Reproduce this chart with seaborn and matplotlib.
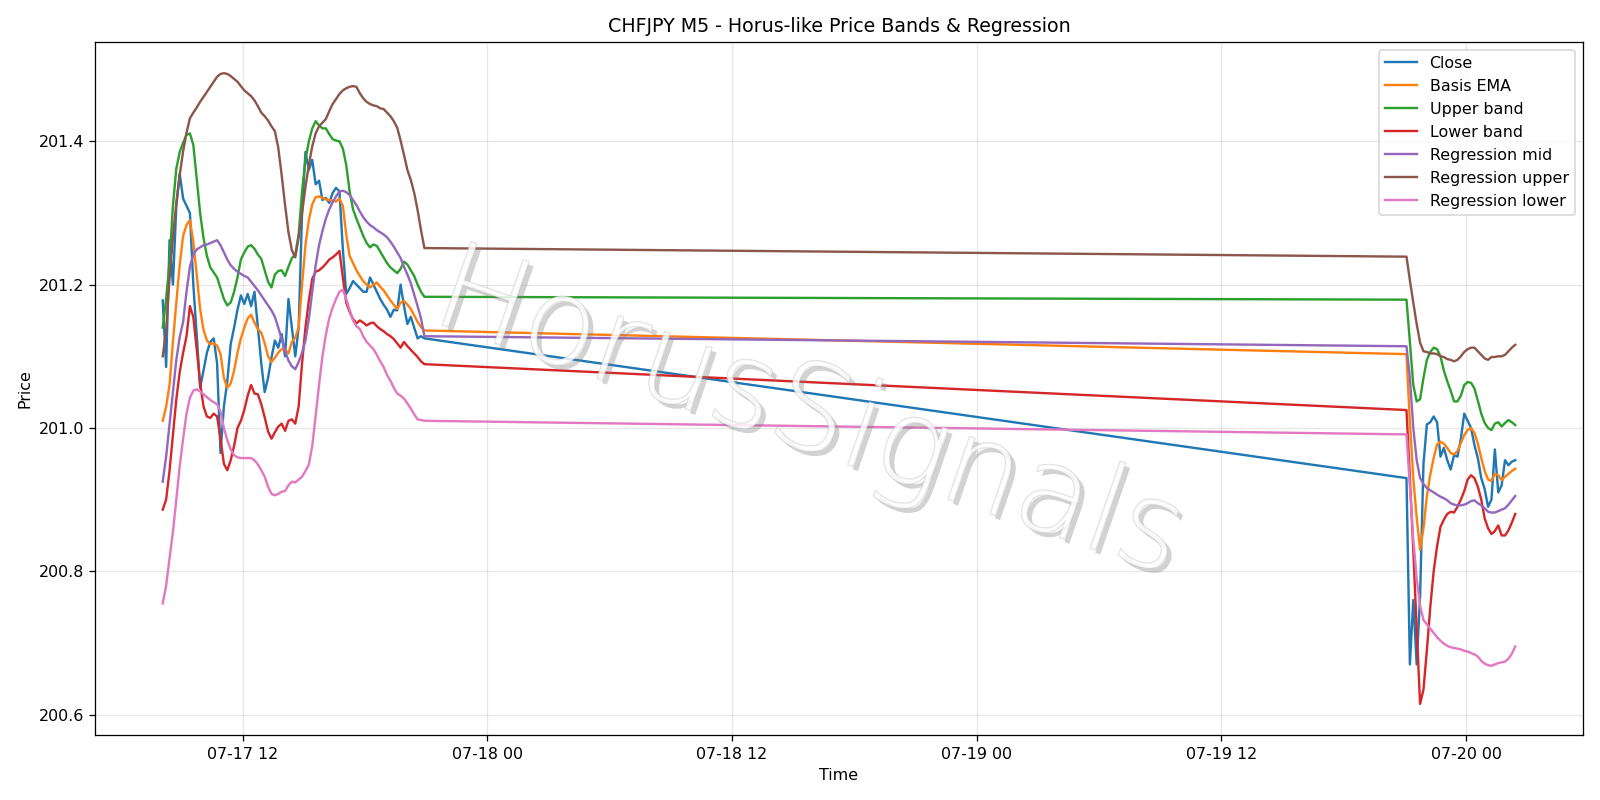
import pandas as pd
import matplotlib
matplotlib.use("Agg")
import matplotlib.pyplot as plt
import matplotlib.patheffects as pe
import seaborn as sns

# time index: two trading sessions (weekend gap in between), 10-minute samples
t_fri = pd.date_range("2020-07-17 08:05", "2020-07-17 20:55", freq="10min")
t_sun = pd.date_range("2020-07-19 21:05", "2020-07-20 02:25", freq="10min")

close_fri = [201.178, 201.085, 201.262, 201.20, 201.31, 201.355, 201.32, 201.31, 201.30, 201.20,
             201.13, 201.056, 201.08, 201.105, 201.12, 201.125, 201.09, 200.965, 201.03, 201.065,
             201.117, 201.14, 201.165, 201.185, 201.173, 201.187, 201.17, 201.19, 201.14, 201.09,
             201.05, 201.07, 201.098, 201.122, 201.112, 201.131, 201.10, 201.18, 201.14, 201.10,
             201.14, 201.30, 201.385, 201.36, 201.374, 201.34, 201.345, 201.318, 201.321, 201.314,
             201.328, 201.335, 201.33, 201.25, 201.187, 201.195, 201.205, 201.20, 201.195, 201.19,
             201.19, 201.21, 201.20, 201.19, 201.18, 201.172, 201.165, 201.155, 201.165, 201.164,
             201.20, 201.17, 201.145, 201.155, 201.14, 201.125, 201.128, 201.125]
close_sun = [200.93, 200.67, 200.76, 200.67, 200.765, 200.95, 201.005, 201.008, 201.016, 201.008,
             200.96, 200.972, 200.955, 200.942, 200.962, 200.96, 200.985, 201.02, 201.01, 201.0,
             200.976, 200.958, 200.93, 200.915, 200.89, 200.90, 200.97, 200.91, 200.92, 200.955,
             200.948, 200.953, 200.955]

ema_fri = [201.01, 201.03, 201.06, 201.12, 201.175, 201.228, 201.268, 201.283, 201.29, 201.26,
           201.214, 201.166, 201.137, 201.122, 201.117, 201.118, 201.115, 201.103, 201.07, 201.056,
           201.062, 201.08, 201.105, 201.125, 201.14, 201.153, 201.158, 201.147, 201.138, 201.133,
           201.118, 201.10, 201.092, 201.098, 201.105, 201.11, 201.11, 201.104, 201.12, 201.126,
           201.14, 201.20, 201.255, 201.29, 201.312, 201.322, 201.323, 201.321, 201.319, 201.318,
           201.317, 201.316, 201.32, 201.31, 201.27, 201.24, 201.23, 201.22, 201.212, 201.205,
           201.20, 201.196, 201.20, 201.203, 201.197, 201.192, 201.185, 201.178, 201.172, 201.166,
           201.175, 201.177, 201.172, 201.166, 201.157, 201.148, 201.141, 201.136]
ema_sun = [201.103, 201.008, 200.93, 200.875, 200.83, 200.86, 200.905, 200.935, 200.958, 200.977,
           200.981, 200.978, 200.972, 200.965, 200.963, 200.968, 200.979, 200.99, 200.997, 201.0,
           200.993, 200.978, 200.958, 200.94, 200.928, 200.926, 200.936, 200.934, 200.927, 200.932,
           200.936, 200.94, 200.943]

upper_fri = [201.14, 201.18, 201.23, 201.31, 201.362, 201.385, 201.398, 201.409, 201.411, 201.395,
             201.348, 201.30, 201.265, 201.24, 201.224, 201.217, 201.21, 201.195, 201.18, 201.171,
             201.175, 201.19, 201.21, 201.235, 201.245, 201.253, 201.255, 201.25, 201.242, 201.236,
             201.22, 201.204, 201.196, 201.214, 201.219, 201.22, 201.212, 201.225, 201.237, 201.242,
             201.27, 201.33, 201.374, 201.40, 201.418, 201.428, 201.422, 201.418, 201.418, 201.41,
             201.403, 201.401, 201.40, 201.39, 201.367, 201.33, 201.305, 201.292, 201.28, 201.268,
             201.258, 201.252, 201.256, 201.254, 201.246, 201.238, 201.23, 201.224, 201.22, 201.216,
             201.222, 201.232, 201.228, 201.22, 201.212, 201.20, 201.19, 201.183]
upper_sun = [201.179, 201.12, 201.06, 201.037, 201.04, 201.07, 201.095, 201.106, 201.112, 201.11,
             201.10, 201.08, 201.065, 201.052, 201.037, 201.037, 201.045, 201.06, 201.064, 201.063,
             201.055, 201.038, 201.02, 201.007, 201.0, 200.997, 201.006, 201.008, 201.002, 201.007,
             201.011, 201.008, 201.004]

lower_fri = [200.886, 200.90, 200.94, 200.99, 201.04, 201.078, 201.105, 201.128, 201.17, 201.155,
             201.11, 201.063, 201.03, 201.016, 201.014, 201.02, 201.016, 200.985, 200.95, 200.941,
             200.955, 200.975, 201.0, 201.01, 201.025, 201.045, 201.06, 201.048, 201.047, 201.033,
             201.015, 200.995, 200.985, 200.994, 201.002, 201.006, 200.996, 201.01, 201.012, 201.006,
             201.03, 201.09, 201.14, 201.178, 201.208, 201.218, 201.22, 201.224, 201.229, 201.235,
             201.238, 201.242, 201.247, 201.21, 201.175, 201.162, 201.152, 201.146, 201.15, 201.147,
             201.143, 201.146, 201.147, 201.142, 201.138, 201.135, 201.131, 201.128, 201.124, 201.118,
             201.112, 201.12, 201.114, 201.109, 201.104, 201.099, 201.093, 201.089]
lower_sun = [201.025, 200.93, 200.83, 200.72, 200.615, 200.635, 200.69, 200.75, 200.80, 200.835,
             200.862, 200.872, 200.88, 200.883, 200.882, 200.89, 200.90, 200.912, 200.928, 200.934,
             200.93, 200.918, 200.90, 200.874, 200.86, 200.852, 200.856, 200.864, 200.85, 200.85,
             200.857, 200.868, 200.88]

reg_mid_fri = [200.925, 200.96, 201.005, 201.05, 201.095, 201.127, 201.148, 201.19, 201.225, 201.242,
               201.249, 201.252, 201.255, 201.256, 201.258, 201.26, 201.262, 201.255, 201.245, 201.235,
               201.227, 201.222, 201.218, 201.215, 201.212, 201.21, 201.204, 201.198, 201.192, 201.185,
               201.178, 201.171, 201.164, 201.155, 201.14, 201.124, 201.108, 201.094, 201.086, 201.082,
               201.092, 201.105, 201.122, 201.152, 201.19, 201.227, 201.255, 201.275, 201.292, 201.305,
               201.315, 201.323, 201.33, 201.331, 201.329, 201.325, 201.318, 201.311, 201.302, 201.294,
               201.288, 201.283, 201.28, 201.276, 201.273, 201.27, 201.266, 201.26, 201.253, 201.245,
               201.237, 201.225, 201.214, 201.202, 201.186, 201.17, 201.153, 201.128]
reg_mid_sun = [201.114, 201.07, 201.0, 200.955, 200.93, 200.922, 200.916, 200.913, 200.91, 200.907,
               200.904, 200.902, 200.899, 200.895, 200.893, 200.892, 200.892, 200.893, 200.895, 200.898,
               200.899, 200.895, 200.892, 200.888, 200.883, 200.882, 200.882, 200.884, 200.886, 200.888,
               200.893, 200.899, 200.905]

reg_up_fri = [201.10, 201.136, 201.208, 201.266, 201.314, 201.353, 201.386, 201.412, 201.432, 201.44,
              201.447, 201.455, 201.462, 201.469, 201.476, 201.483, 201.49, 201.494, 201.495, 201.494,
              201.491, 201.487, 201.483, 201.477, 201.471, 201.467, 201.463, 201.457, 201.449, 201.44,
              201.435, 201.429, 201.421, 201.414, 201.391, 201.353, 201.311, 201.273, 201.248, 201.238,
              201.266, 201.30, 201.336, 201.367, 201.393, 201.411, 201.421, 201.426, 201.431, 201.442,
              201.452, 201.459, 201.466, 201.471, 201.474, 201.476, 201.477, 201.476, 201.467, 201.46,
              201.455, 201.452, 201.45, 201.449, 201.446, 201.445, 201.44, 201.435, 201.428, 201.419,
              201.401, 201.381, 201.36, 201.346, 201.328, 201.304, 201.276, 201.251]
reg_up_sun = [201.239, 201.206, 201.175, 201.145, 201.119, 201.107, 201.106, 201.104, 201.104, 201.103,
              201.10, 201.099, 201.096, 201.095, 201.093, 201.095, 201.10, 201.106, 201.11, 201.112,
              201.112, 201.107, 201.102, 201.097, 201.095, 201.099, 201.099, 201.10, 201.10, 201.102,
              201.107, 201.112, 201.116]

reg_low_fri = [200.755, 200.78, 200.818, 200.855, 200.90, 200.947, 200.985, 201.02, 201.042, 201.052,
               201.054, 201.051, 201.047, 201.043, 201.039, 201.036, 201.033, 201.023, 201.0, 200.983,
               200.97, 200.962, 200.959, 200.958, 200.958, 200.958, 200.958, 200.955, 200.949, 200.941,
               200.932, 200.918, 200.908, 200.906, 200.908, 200.911, 200.912, 200.92, 200.925, 200.924,
               200.928, 200.932, 200.94, 200.949, 200.975, 201.017, 201.06, 201.10, 201.13, 201.153,
               201.168, 201.18, 201.19, 201.193, 201.18, 201.165, 201.15, 201.142, 201.138, 201.128,
               201.12, 201.115, 201.11, 201.102, 201.093, 201.085, 201.074, 201.066, 201.056, 201.048,
               201.045, 201.041, 201.034, 201.027, 201.019, 201.012, 201.011, 201.01]
reg_low_sun = [200.991, 200.918, 200.845, 200.79, 200.752, 200.732, 200.726, 200.72, 200.714, 200.708,
               200.703, 200.699, 200.696, 200.694, 200.693, 200.692, 200.691, 200.689, 200.688, 200.686,
               200.684, 200.681, 200.675, 200.671, 200.669, 200.668, 200.67, 200.672, 200.673, 200.674,
               200.678, 200.685, 200.695]

times = t_fri.append(t_sun)
df = pd.DataFrame({
    "Time": times,
    "Close": close_fri + close_sun,
    "Basis EMA": ema_fri + ema_sun,
    "Upper band": upper_fri + upper_sun,
    "Lower band": lower_fri + lower_sun,
    "Regression mid": reg_mid_fri + reg_mid_sun,
    "Regression upper": reg_up_fri + reg_up_sun,
    "Regression lower": reg_low_fri + reg_low_sun,
})

fig, ax = plt.subplots(figsize=(14, 7), dpi=800 / 7)
palette = sns.color_palette("tab10")
for i, col in enumerate(df.columns[1:]):
    sns.lineplot(x=df["Time"], y=df[col], ax=ax, label=col, color=palette[i], linewidth=1.5)

ax.set_title("CHFJPY M5 - Horus-like Price Bands & Regression")
ax.set_xlabel("Time")
ax.set_ylabel("Price")
ax.grid(True, alpha=0.3)
ax.legend(loc="upper right")

# watermark
ax.text(0.48, 0.46, "HorusSignals", transform=ax.transAxes, fontsize=76,
        fontweight="light", color="white", alpha=0.6, rotation=-19,
        ha="center", va="center", zorder=10,
        path_effects=[pe.SimplePatchShadow(offset=(3, -3), shadow_rgbFace="gray", alpha=0.35),
                      pe.Stroke(linewidth=1.0, foreground="#c8c8c8"),
                      pe.Normal()])

plt.tight_layout()
plt.savefig("out.png")
